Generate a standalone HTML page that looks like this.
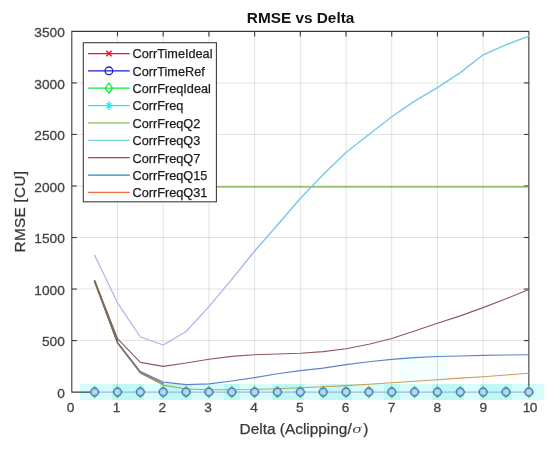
<!DOCTYPE html>
<html><head><meta charset="utf-8"><title>RMSE vs Delta</title>
<style>
html,body{margin:0;padding:0;background:#fff;}
body{width:550px;height:451px;overflow:hidden;}
svg{display:block;filter:blur(0.45px);}
text{font-family:"Liberation Sans",sans-serif;}
.tk{font-size:13.7px;fill:#444444;stroke:#444444;stroke-width:0.3px;}
.lg{font-size:12.7px;fill:#1c1c1c;stroke:#1c1c1c;stroke-width:0.25px;}
.lb{font-size:15.4px;fill:#383838;stroke:#383838;stroke-width:0.25px;}
</style></head><body>
<svg width="550" height="451" viewBox="0 0 550 451">
<rect x="0" y="0" width="550" height="451" fill="#ffffff"/>
<defs><linearGradient id="q3g" gradientUnits="userSpaceOnUse" x1="0" y1="262" x2="0" y2="228"><stop offset="0" stop-color="#a9b2ee"/><stop offset="1" stop-color="#72cbe6"/></linearGradient></defs>
<rect x="400" y="352" width="48" height="32" fill="#f3fefe"/>
<rect x="80" y="384" width="16.3" height="16" fill="#d7fcfc"/>
<rect x="96" y="384" width="16.3" height="16" fill="#d7fcfc"/>
<rect x="112" y="384" width="16.3" height="16" fill="#bff7f7"/>
<rect x="128" y="384" width="16.3" height="16" fill="#bff7f7"/>
<rect x="144" y="384" width="16.3" height="16" fill="#dcfdfd"/>
<rect x="160" y="384" width="16.3" height="16" fill="#bff7f7"/>
<rect x="176" y="384" width="16.3" height="16" fill="#bff7f7"/>
<rect x="192" y="384" width="16.3" height="16" fill="#d7fcfc"/>
<rect x="208" y="384" width="16.3" height="16" fill="#d7fcfc"/>
<rect x="224" y="384" width="16.3" height="16" fill="#bff7f7"/>
<rect x="240" y="384" width="16.3" height="16" fill="#d7fcfc"/>
<rect x="256" y="384" width="16.3" height="16" fill="#d7fcfc"/>
<rect x="272" y="384" width="16.3" height="16" fill="#bff7f7"/>
<rect x="288" y="384" width="16.3" height="16" fill="#bff7f7"/>
<rect x="304" y="384" width="16.3" height="16" fill="#dcfdfd"/>
<rect x="320" y="384" width="16.3" height="16" fill="#bff7f7"/>
<rect x="336" y="384" width="16.3" height="16" fill="#bff7f7"/>
<rect x="352" y="384" width="16.3" height="16" fill="#d7fcfc"/>
<rect x="368" y="384" width="16.3" height="16" fill="#d7fcfc"/>
<rect x="384" y="384" width="16.3" height="16" fill="#bff7f7"/>
<rect x="400" y="384" width="16.3" height="16" fill="#d7fcfc"/>
<rect x="416" y="384" width="16.3" height="16" fill="#d7fcfc"/>
<rect x="432" y="384" width="16.3" height="16" fill="#bff7f7"/>
<rect x="448" y="384" width="16.3" height="16" fill="#bff7f7"/>
<rect x="464" y="384" width="16.3" height="16" fill="#dcfdfd"/>
<rect x="480" y="384" width="16.3" height="16" fill="#bff7f7"/>
<rect x="496" y="384" width="16.3" height="16" fill="#bff7f7"/>
<rect x="512" y="384" width="16.3" height="16" fill="#d7fcfc"/>
<rect x="528" y="384" width="16.3" height="16" fill="#d7fcfc"/>
<g stroke="#000000" stroke-opacity="0.115" stroke-width="1.0" fill="none">
<line x1="117.50" y1="31.40" x2="117.50" y2="392.10"/>
<line x1="163.21" y1="31.40" x2="163.21" y2="392.10"/>
<line x1="208.92" y1="31.40" x2="208.92" y2="392.10"/>
<line x1="254.62" y1="31.40" x2="254.62" y2="392.10"/>
<line x1="300.32" y1="31.40" x2="300.32" y2="392.10"/>
<line x1="346.03" y1="31.40" x2="346.03" y2="392.10"/>
<line x1="391.74" y1="31.40" x2="391.74" y2="392.10"/>
<line x1="437.44" y1="31.40" x2="437.44" y2="392.10"/>
<line x1="483.14" y1="31.40" x2="483.14" y2="392.10"/>
<line x1="71.80" y1="340.57" x2="528.85" y2="340.57"/>
<line x1="71.80" y1="289.04" x2="528.85" y2="289.04"/>
<line x1="71.80" y1="237.51" x2="528.85" y2="237.51"/>
<line x1="71.80" y1="185.99" x2="528.85" y2="185.99"/>
<line x1="71.80" y1="134.46" x2="528.85" y2="134.46"/>
<line x1="71.80" y1="82.93" x2="528.85" y2="82.93"/>
</g>
<g stroke="#3c3c3c" stroke-width="1.1" fill="none">
<path d="M94.65,392.10 L71.80,392.10 L71.80,31.40 L528.85,31.40 L528.85,392.10"/>
<line x1="117.50" y1="31.40" x2="117.50" y2="36.40"/>
<line x1="117.50" y1="392.10" x2="117.50" y2="387.10"/>
<line x1="163.21" y1="31.40" x2="163.21" y2="36.40"/>
<line x1="163.21" y1="392.10" x2="163.21" y2="387.10"/>
<line x1="208.92" y1="31.40" x2="208.92" y2="36.40"/>
<line x1="208.92" y1="392.10" x2="208.92" y2="387.10"/>
<line x1="254.62" y1="31.40" x2="254.62" y2="36.40"/>
<line x1="254.62" y1="392.10" x2="254.62" y2="387.10"/>
<line x1="300.32" y1="31.40" x2="300.32" y2="36.40"/>
<line x1="300.32" y1="392.10" x2="300.32" y2="387.10"/>
<line x1="346.03" y1="31.40" x2="346.03" y2="36.40"/>
<line x1="346.03" y1="392.10" x2="346.03" y2="387.10"/>
<line x1="391.74" y1="31.40" x2="391.74" y2="36.40"/>
<line x1="391.74" y1="392.10" x2="391.74" y2="387.10"/>
<line x1="437.44" y1="31.40" x2="437.44" y2="36.40"/>
<line x1="437.44" y1="392.10" x2="437.44" y2="387.10"/>
<line x1="483.14" y1="31.40" x2="483.14" y2="36.40"/>
<line x1="483.14" y1="392.10" x2="483.14" y2="387.10"/>
<line x1="71.80" y1="340.57" x2="76.80" y2="340.57"/>
<line x1="528.85" y1="340.57" x2="523.85" y2="340.57"/>
<line x1="71.80" y1="289.04" x2="76.80" y2="289.04"/>
<line x1="528.85" y1="289.04" x2="523.85" y2="289.04"/>
<line x1="71.80" y1="237.51" x2="76.80" y2="237.51"/>
<line x1="528.85" y1="237.51" x2="523.85" y2="237.51"/>
<line x1="71.80" y1="185.99" x2="76.80" y2="185.99"/>
<line x1="528.85" y1="185.99" x2="523.85" y2="185.99"/>
<line x1="71.80" y1="134.46" x2="76.80" y2="134.46"/>
<line x1="528.85" y1="134.46" x2="523.85" y2="134.46"/>
<line x1="71.80" y1="82.93" x2="76.80" y2="82.93"/>
<line x1="528.85" y1="82.93" x2="523.85" y2="82.93"/>
</g>
<g fill="none" stroke-width="1.15" stroke-linejoin="round" stroke-linecap="round">
<line x1="216.00" y1="186.91" x2="528.85" y2="186.91" stroke="#76aa3c" stroke-width="1.1"/>
<polyline points="94.65,255.34 117.50,302.85 140.36,336.96 163.21,345.00 186.06,331.50 208.92,306.56 231.77,279.36" stroke="#a9b2ee"/>
<polyline points="231.77,279.36 254.62,251.01 277.47,224.94" stroke="url(#q3g)" stroke-width="1.35"/>
<polyline points="277.47,224.94 300.32,198.56 323.18,174.44 346.03,152.49 368.88,134.46 391.74,116.73 414.59,101.17 437.44,87.57 460.29,72.62 483.14,54.79 506.00,44.80 528.85,36.04" stroke="#72cbe6" stroke-width="1.4"/>
<polyline points="94.65,281.11 117.50,338.72 140.36,362.32 163.21,366.34 186.06,363.04 208.92,359.22 231.77,356.34 254.62,354.79 277.47,353.97 300.32,353.25 323.18,351.60 346.03,348.71 368.88,344.28 391.74,338.51 414.59,330.99 437.44,323.26 460.29,315.84 483.14,307.59 506.00,298.83 528.85,289.46" stroke="#8d5a5a"/>
<polyline points="94.65,281.11 117.50,342.43 140.36,371.49 163.21,382.10 186.06,384.68 208.92,383.86 231.77,380.97 254.62,377.57 277.47,373.76 300.32,370.66 323.18,368.09 346.03,364.69 368.88,361.70 391.74,359.43 414.59,357.68 437.44,356.55 460.29,356.03 483.14,355.41 506.00,355.00 528.85,354.79" stroke="#6480cc"/>
<polyline points="94.65,281.11 117.50,343.25 140.36,373.24 163.21,385.09" stroke="#a3ab58"/>
<polyline points="163.21,385.09 186.06,389.01 208.92,389.73" stroke="#8fb650"/>
<polyline points="208.92,389.73 231.77,389.73 254.62,389.52 277.47,388.70 300.32,387.77" stroke="#a9ad5a"/>
<polyline points="300.32,387.77 323.18,386.74 346.03,385.61 368.88,384.27 391.74,382.72 414.59,381.28 437.44,379.73 460.29,378.19 483.14,376.74 506.00,374.99 528.85,373.24" stroke="#d09a5a"/>
<polyline points="94.65,281.11 117.50,342.84 140.36,372.36 163.21,383.60" stroke="#6f6060" stroke-opacity="0.8" stroke-width="1.3"/>
<line x1="94.65" y1="281.11" x2="117.50" y2="340.88" stroke="#7b6a58" stroke-opacity="0.85" stroke-width="2.1"/>
</g>
<line x1="94.65" y1="392.10" x2="528.85" y2="392.10" stroke="#9bbbe6" stroke-width="1.2"/>
<g>
<g transform="translate(94.65,392.10)">
<path d="M0,-5.4 L4.3,0 L0,5.4 L-4.3,0 Z" fill="none" stroke="#62d24c" stroke-width="1.4"/>
<circle r="3.95" fill="#9dc6f3" stroke="#4b7cab" stroke-width="1.3"/>
<path d="M-2.4,0 h4.8 M0,-2.4 v4.8 M-1.7,-1.7 l3.4,3.4 M-1.7,1.7 l3.4,-3.4" stroke="#c4efff" stroke-width="0.8" stroke-opacity="0.7" fill="none"/>
</g>
<g transform="translate(117.50,392.10)">
<path d="M0,-5.4 L4.3,0 L0,5.4 L-4.3,0 Z" fill="none" stroke="#62d24c" stroke-width="1.4"/>
<circle r="3.95" fill="#9dc6f3" stroke="#4b7cab" stroke-width="1.3"/>
<path d="M-2.4,0 h4.8 M0,-2.4 v4.8 M-1.7,-1.7 l3.4,3.4 M-1.7,1.7 l3.4,-3.4" stroke="#c4efff" stroke-width="0.8" stroke-opacity="0.7" fill="none"/>
</g>
<g transform="translate(140.36,392.10)">
<path d="M0,-5.4 L4.3,0 L0,5.4 L-4.3,0 Z" fill="none" stroke="#62d24c" stroke-width="1.4"/>
<circle r="3.95" fill="#9dc6f3" stroke="#4b7cab" stroke-width="1.3"/>
<path d="M-2.4,0 h4.8 M0,-2.4 v4.8 M-1.7,-1.7 l3.4,3.4 M-1.7,1.7 l3.4,-3.4" stroke="#c4efff" stroke-width="0.8" stroke-opacity="0.7" fill="none"/>
</g>
<g transform="translate(163.21,392.10)">
<path d="M0,-5.4 L4.3,0 L0,5.4 L-4.3,0 Z" fill="none" stroke="#62d24c" stroke-width="1.4"/>
<circle r="3.95" fill="#9dc6f3" stroke="#4b7cab" stroke-width="1.3"/>
<path d="M-2.4,0 h4.8 M0,-2.4 v4.8 M-1.7,-1.7 l3.4,3.4 M-1.7,1.7 l3.4,-3.4" stroke="#c4efff" stroke-width="0.8" stroke-opacity="0.7" fill="none"/>
</g>
<g transform="translate(186.06,392.10)">
<path d="M0,-5.4 L4.3,0 L0,5.4 L-4.3,0 Z" fill="none" stroke="#62d24c" stroke-width="1.4"/>
<circle r="3.95" fill="#9dc6f3" stroke="#4b7cab" stroke-width="1.3"/>
<path d="M-2.4,0 h4.8 M0,-2.4 v4.8 M-1.7,-1.7 l3.4,3.4 M-1.7,1.7 l3.4,-3.4" stroke="#c4efff" stroke-width="0.8" stroke-opacity="0.7" fill="none"/>
</g>
<g transform="translate(208.92,392.10)">
<path d="M0,-5.4 L4.3,0 L0,5.4 L-4.3,0 Z" fill="none" stroke="#62d24c" stroke-width="1.4"/>
<circle r="3.95" fill="#9dc6f3" stroke="#4b7cab" stroke-width="1.3"/>
<path d="M-2.4,0 h4.8 M0,-2.4 v4.8 M-1.7,-1.7 l3.4,3.4 M-1.7,1.7 l3.4,-3.4" stroke="#c4efff" stroke-width="0.8" stroke-opacity="0.7" fill="none"/>
</g>
<g transform="translate(231.77,392.10)">
<path d="M0,-5.4 L4.3,0 L0,5.4 L-4.3,0 Z" fill="none" stroke="#62d24c" stroke-width="1.4"/>
<circle r="3.95" fill="#9dc6f3" stroke="#4b7cab" stroke-width="1.3"/>
<path d="M-2.4,0 h4.8 M0,-2.4 v4.8 M-1.7,-1.7 l3.4,3.4 M-1.7,1.7 l3.4,-3.4" stroke="#c4efff" stroke-width="0.8" stroke-opacity="0.7" fill="none"/>
</g>
<g transform="translate(254.62,392.10)">
<path d="M0,-5.4 L4.3,0 L0,5.4 L-4.3,0 Z" fill="none" stroke="#62d24c" stroke-width="1.4"/>
<circle r="3.95" fill="#9dc6f3" stroke="#4b7cab" stroke-width="1.3"/>
<path d="M-2.4,0 h4.8 M0,-2.4 v4.8 M-1.7,-1.7 l3.4,3.4 M-1.7,1.7 l3.4,-3.4" stroke="#c4efff" stroke-width="0.8" stroke-opacity="0.7" fill="none"/>
</g>
<g transform="translate(277.47,392.10)">
<path d="M0,-5.4 L4.3,0 L0,5.4 L-4.3,0 Z" fill="none" stroke="#62d24c" stroke-width="1.4"/>
<circle r="3.95" fill="#9dc6f3" stroke="#4b7cab" stroke-width="1.3"/>
<path d="M-2.4,0 h4.8 M0,-2.4 v4.8 M-1.7,-1.7 l3.4,3.4 M-1.7,1.7 l3.4,-3.4" stroke="#c4efff" stroke-width="0.8" stroke-opacity="0.7" fill="none"/>
</g>
<g transform="translate(300.32,392.10)">
<path d="M0,-5.4 L4.3,0 L0,5.4 L-4.3,0 Z" fill="none" stroke="#62d24c" stroke-width="1.4"/>
<circle r="3.95" fill="#9dc6f3" stroke="#4b7cab" stroke-width="1.3"/>
<path d="M-2.4,0 h4.8 M0,-2.4 v4.8 M-1.7,-1.7 l3.4,3.4 M-1.7,1.7 l3.4,-3.4" stroke="#c4efff" stroke-width="0.8" stroke-opacity="0.7" fill="none"/>
</g>
<g transform="translate(323.18,392.10)">
<path d="M0,-5.4 L4.3,0 L0,5.4 L-4.3,0 Z" fill="none" stroke="#62d24c" stroke-width="1.4"/>
<circle r="3.95" fill="#9dc6f3" stroke="#4b7cab" stroke-width="1.3"/>
<path d="M-2.4,0 h4.8 M0,-2.4 v4.8 M-1.7,-1.7 l3.4,3.4 M-1.7,1.7 l3.4,-3.4" stroke="#c4efff" stroke-width="0.8" stroke-opacity="0.7" fill="none"/>
</g>
<g transform="translate(346.03,392.10)">
<path d="M0,-5.4 L4.3,0 L0,5.4 L-4.3,0 Z" fill="none" stroke="#62d24c" stroke-width="1.4"/>
<circle r="3.95" fill="#9dc6f3" stroke="#4b7cab" stroke-width="1.3"/>
<path d="M-2.4,0 h4.8 M0,-2.4 v4.8 M-1.7,-1.7 l3.4,3.4 M-1.7,1.7 l3.4,-3.4" stroke="#c4efff" stroke-width="0.8" stroke-opacity="0.7" fill="none"/>
</g>
<g transform="translate(368.88,392.10)">
<path d="M0,-5.4 L4.3,0 L0,5.4 L-4.3,0 Z" fill="none" stroke="#62d24c" stroke-width="1.4"/>
<circle r="3.95" fill="#9dc6f3" stroke="#4b7cab" stroke-width="1.3"/>
<path d="M-2.4,0 h4.8 M0,-2.4 v4.8 M-1.7,-1.7 l3.4,3.4 M-1.7,1.7 l3.4,-3.4" stroke="#c4efff" stroke-width="0.8" stroke-opacity="0.7" fill="none"/>
</g>
<g transform="translate(391.74,392.10)">
<path d="M0,-5.4 L4.3,0 L0,5.4 L-4.3,0 Z" fill="none" stroke="#62d24c" stroke-width="1.4"/>
<circle r="3.95" fill="#9dc6f3" stroke="#4b7cab" stroke-width="1.3"/>
<path d="M-2.4,0 h4.8 M0,-2.4 v4.8 M-1.7,-1.7 l3.4,3.4 M-1.7,1.7 l3.4,-3.4" stroke="#c4efff" stroke-width="0.8" stroke-opacity="0.7" fill="none"/>
</g>
<g transform="translate(414.59,392.10)">
<path d="M0,-5.4 L4.3,0 L0,5.4 L-4.3,0 Z" fill="none" stroke="#62d24c" stroke-width="1.4"/>
<circle r="3.95" fill="#9dc6f3" stroke="#4b7cab" stroke-width="1.3"/>
<path d="M-2.4,0 h4.8 M0,-2.4 v4.8 M-1.7,-1.7 l3.4,3.4 M-1.7,1.7 l3.4,-3.4" stroke="#c4efff" stroke-width="0.8" stroke-opacity="0.7" fill="none"/>
</g>
<g transform="translate(437.44,392.10)">
<path d="M0,-5.4 L4.3,0 L0,5.4 L-4.3,0 Z" fill="none" stroke="#62d24c" stroke-width="1.4"/>
<circle r="3.95" fill="#9dc6f3" stroke="#4b7cab" stroke-width="1.3"/>
<path d="M-2.4,0 h4.8 M0,-2.4 v4.8 M-1.7,-1.7 l3.4,3.4 M-1.7,1.7 l3.4,-3.4" stroke="#c4efff" stroke-width="0.8" stroke-opacity="0.7" fill="none"/>
</g>
<g transform="translate(460.29,392.10)">
<path d="M0,-5.4 L4.3,0 L0,5.4 L-4.3,0 Z" fill="none" stroke="#62d24c" stroke-width="1.4"/>
<circle r="3.95" fill="#9dc6f3" stroke="#4b7cab" stroke-width="1.3"/>
<path d="M-2.4,0 h4.8 M0,-2.4 v4.8 M-1.7,-1.7 l3.4,3.4 M-1.7,1.7 l3.4,-3.4" stroke="#c4efff" stroke-width="0.8" stroke-opacity="0.7" fill="none"/>
</g>
<g transform="translate(483.14,392.10)">
<path d="M0,-5.4 L4.3,0 L0,5.4 L-4.3,0 Z" fill="none" stroke="#62d24c" stroke-width="1.4"/>
<circle r="3.95" fill="#9dc6f3" stroke="#4b7cab" stroke-width="1.3"/>
<path d="M-2.4,0 h4.8 M0,-2.4 v4.8 M-1.7,-1.7 l3.4,3.4 M-1.7,1.7 l3.4,-3.4" stroke="#c4efff" stroke-width="0.8" stroke-opacity="0.7" fill="none"/>
</g>
<g transform="translate(506.00,392.10)">
<path d="M0,-5.4 L4.3,0 L0,5.4 L-4.3,0 Z" fill="none" stroke="#62d24c" stroke-width="1.4"/>
<circle r="3.95" fill="#9dc6f3" stroke="#4b7cab" stroke-width="1.3"/>
<path d="M-2.4,0 h4.8 M0,-2.4 v4.8 M-1.7,-1.7 l3.4,3.4 M-1.7,1.7 l3.4,-3.4" stroke="#c4efff" stroke-width="0.8" stroke-opacity="0.7" fill="none"/>
</g>
<g transform="translate(528.85,392.10)">
<path d="M0,-5.4 L4.3,0 L0,5.4 L-4.3,0 Z" fill="none" stroke="#62d24c" stroke-width="1.4"/>
<circle r="3.95" fill="#9dc6f3" stroke="#4b7cab" stroke-width="1.3"/>
<path d="M-2.4,0 h4.8 M0,-2.4 v4.8 M-1.7,-1.7 l3.4,3.4 M-1.7,1.7 l3.4,-3.4" stroke="#c4efff" stroke-width="0.8" stroke-opacity="0.7" fill="none"/>
</g>
</g>
<text class="tk" x="64.8" y="397.85" text-anchor="end">0</text>
<text class="tk" x="64.8" y="346.32" text-anchor="end">500</text>
<text class="tk" x="64.8" y="294.79" text-anchor="end">1000</text>
<text class="tk" x="64.8" y="243.26" text-anchor="end">1500</text>
<text class="tk" x="64.8" y="191.74" text-anchor="end">2000</text>
<text class="tk" x="64.8" y="140.21" text-anchor="end">2500</text>
<text class="tk" x="64.8" y="88.68" text-anchor="end">3000</text>
<text class="tk" x="64.8" y="37.15" text-anchor="end">3500</text>
<text class="tk" x="70.60" y="412.4" text-anchor="middle">0</text>
<text class="tk" x="116.44" y="412.4" text-anchor="middle">1</text>
<text class="tk" x="162.29" y="412.4" text-anchor="middle">2</text>
<text class="tk" x="208.14" y="412.4" text-anchor="middle">3</text>
<text class="tk" x="253.98" y="412.4" text-anchor="middle">4</text>
<text class="tk" x="299.82" y="412.4" text-anchor="middle">5</text>
<text class="tk" x="345.67" y="412.4" text-anchor="middle">6</text>
<text class="tk" x="391.52" y="412.4" text-anchor="middle">7</text>
<text class="tk" x="437.36" y="412.4" text-anchor="middle">8</text>
<text class="tk" x="483.20" y="412.4" text-anchor="middle">9</text>
<text class="tk" x="529.75" y="412.4" text-anchor="middle" style="letter-spacing:-0.7px">10</text>
<text x="300.6" y="23.3" text-anchor="middle" style="font-size:15.35px;font-weight:bold;fill:#111;">RMSE vs Delta</text>
<text class="lb" x="239.6" y="433.7">Delta (Aclipping/</text>
<text transform="translate(352.2,433.0) scale(1.45,1)" style="font-family:'Liberation Serif',serif;font-style:italic;font-size:13px;fill:#4a4a4a;">σ</text>
<text class="lb" x="363.2" y="433.7">)</text>
<text class="lb" style="font-size:15.3px;letter-spacing:0.3px" transform="translate(24.5,252.4) rotate(-90)">RMSE [CU]</text>
<rect x="83.30" y="42.70" width="133.10" height="159.10" fill="#ffffff" stroke="#3c3c3c" stroke-width="1.1"/>
<line x1="88.10" y1="53.50" x2="129.70" y2="53.50" stroke="#ff0a2a" stroke-width="1.25"/>
<path d="M106.20,50.80 l5.4,5.4 M106.20,56.20 l5.4,-5.4" stroke="#ff0a2a" stroke-width="1.3" fill="none"/>
<text class="lg" x="132.6" y="58.35">CorrTimeIdeal</text>
<line x1="88.10" y1="70.86" x2="129.70" y2="70.86" stroke="#1c1ccc" stroke-width="1.25"/>
<circle cx="108.90" cy="70.86" r="3.85" stroke="#1c1ccc" stroke-width="1.3" fill="none"/>
<text class="lg" x="132.6" y="75.71">CorrTimeRef</text>
<line x1="88.10" y1="88.22" x2="129.70" y2="88.22" stroke="#0aee3a" stroke-width="1.25"/>
<path d="M108.90,83.22 l3.6,5.0 l-3.6,5.0 l-3.6,-5.0 Z" stroke="#0aee3a" stroke-width="1.3" fill="none"/>
<text class="lg" x="132.6" y="93.07">CorrFreqIdeal</text>
<line x1="88.10" y1="105.58" x2="129.70" y2="105.58" stroke="#10eef0" stroke-width="1.25"/>
<path d="M108.90,101.08 v9 M106.50,102.78 l4.8,5.6 M106.50,108.38 l4.8,-5.6" stroke="#10eef0" stroke-width="1.2" fill="none"/>
<text class="lg" x="132.6" y="110.43">CorrFreq</text>
<line x1="88.10" y1="122.94" x2="129.70" y2="122.94" stroke="#8cbc5a" stroke-width="1.25"/>
<text class="lg" x="132.6" y="127.79">CorrFreqQ2</text>
<line x1="88.10" y1="140.30" x2="129.70" y2="140.30" stroke="#74d2dc" stroke-width="1.25"/>
<text class="lg" x="132.6" y="145.15">CorrFreqQ3</text>
<line x1="88.10" y1="157.66" x2="129.70" y2="157.66" stroke="#c23258" stroke-width="1.25"/>
<text class="lg" x="132.6" y="162.51">CorrFreqQ7</text>
<line x1="88.10" y1="175.02" x2="129.70" y2="175.02" stroke="#2888c2" stroke-width="1.25"/>
<text class="lg" x="132.6" y="179.87">CorrFreqQ15</text>
<line x1="88.10" y1="192.38" x2="129.70" y2="192.38" stroke="#ee6a40" stroke-width="1.25"/>
<text class="lg" x="132.6" y="197.23">CorrFreqQ31</text>
</svg>
</body></html>
